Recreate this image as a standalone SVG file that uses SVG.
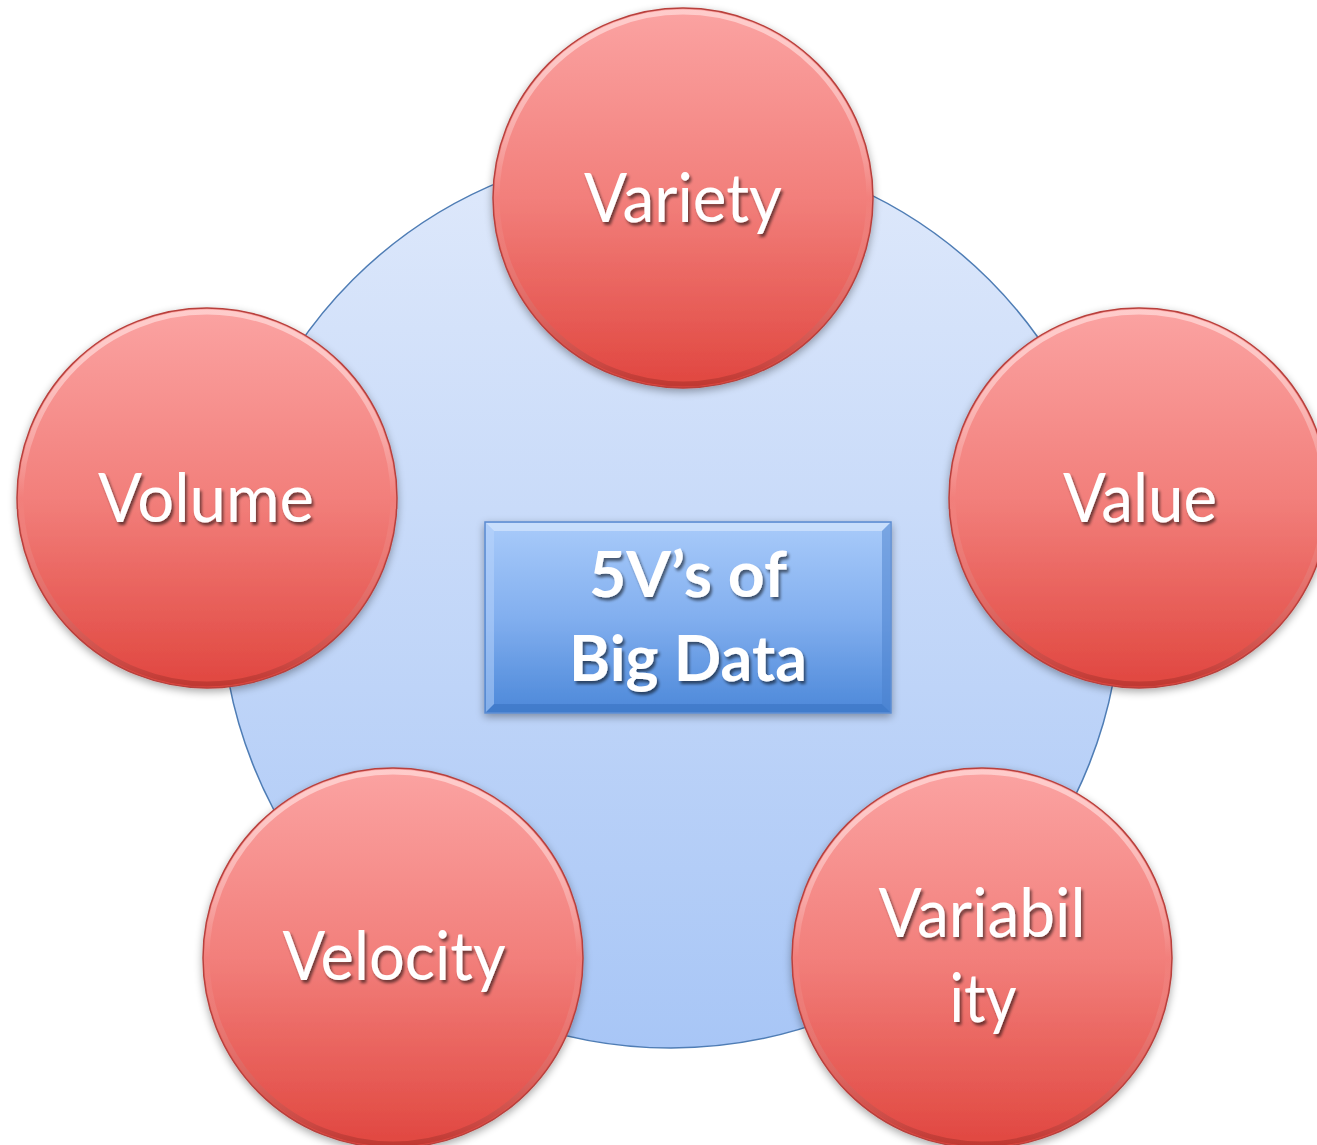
<svg xmlns="http://www.w3.org/2000/svg" width="1317" height="1145" viewBox="0 0 1317 1145">
  <defs>
    <linearGradient id="ringFill" x1="0" y1="0" x2="0" y2="1">
      <stop offset="0" stop-color="#dfe9fb"/>
      <stop offset="1" stop-color="#a8c6f6"/>
    </linearGradient>
    <linearGradient id="redFill" x1="0" y1="0" x2="0" y2="1">
      <stop offset="0" stop-color="#fba3a2"/>
      <stop offset="0.5" stop-color="#f27f7b"/>
      <stop offset="1" stop-color="#e0463f"/>
    </linearGradient>
    <linearGradient id="redRim" x1="0" y1="0" x2="0" y2="1">
      <stop offset="0" stop-color="#ffd0cf" stop-opacity="0.9"/>
      <stop offset="0.5" stop-color="#ffffff" stop-opacity="0"/>
      <stop offset="1" stop-color="#a02a25" stop-opacity="0.5"/>
    </linearGradient>
    <linearGradient id="boxFill" x1="0" y1="0" x2="0" y2="1">
      <stop offset="0" stop-color="#a9cbfa"/>
      <stop offset="0.5" stop-color="#82afef"/>
      <stop offset="1" stop-color="#4c88d9"/>
    </linearGradient>
    <filter id="dropShadow" x="-20%" y="-20%" width="140%" height="140%">
      <feGaussianBlur in="SourceAlpha" stdDeviation="4"/>
      <feOffset dx="0" dy="3" result="b"/>
      <feComponentTransfer><feFuncA type="linear" slope="0.35"/></feComponentTransfer>
      <feMerge><feMergeNode/><feMergeNode in="SourceGraphic"/></feMerge>
    </filter>
    <filter id="textShadow" x="-10%" y="-20%" width="120%" height="150%">
      <feGaussianBlur in="SourceAlpha" stdDeviation="1.8"/>
      <feOffset dx="2" dy="3" result="b"/>
      <feComponentTransfer><feFuncA type="linear" slope="0.55"/></feComponentTransfer>
      <feMerge><feMergeNode/><feMergeNode in="SourceGraphic"/></feMerge>
    </filter>
  </defs>
  <style>
    .disc { fill: url(#redFill); stroke: #b8413d; stroke-width: 1.5; filter: url(#dropShadow); }
    .rim { fill: none; stroke: url(#redRim); stroke-width: 5; }
    .lbl { font-family: Lato, "Open Sans", "Liberation Sans", sans-serif; font-size: 68px; fill: #ffffff; text-anchor: middle; filter: url(#textShadow); }
    .title { font-family: Lato, "Open Sans", "Liberation Sans", sans-serif; font-weight: bold; font-size: 64px; fill: #ffffff; text-anchor: middle; filter: url(#textShadow); }
  </style>

  <rect width="1317" height="1145" fill="#ffffff"/>

  <!-- background ring -->
  <g id="ring">
    <circle cx="671" cy="598" r="450" fill="url(#ringFill)" stroke="#4f7db5" stroke-width="1.5"/>
  </g>

  <g id="connectors"/>

  <!-- centre box -->
  <g id="center">
    <rect x="485" y="522" width="406" height="191" fill="url(#boxFill)" stroke="#5b8bd0" stroke-width="1.5" filter="url(#dropShadow)"/>
    <polygon points="486,523 890,523 882,531 494,531" fill="#cfe2fd" opacity="0.8"/>
    <polygon points="486,712 890,712 882,704 494,704" fill="#3b73c2" opacity="0.6"/>
    <polygon points="486,523 494,531 494,704 486,712" fill="#bcd6fb" opacity="0.5"/>
    <polygon points="890,523 882,531 882,704 890,712" fill="#4a80cc" opacity="0.5"/>
    <text class="title" x="688" y="597" textLength="198" lengthAdjust="spacingAndGlyphs">5V’s of</text>
    <text class="title" x="688" y="681" textLength="238" lengthAdjust="spacingAndGlyphs">Big Data</text>
  </g>

  <g id="variety">
    <circle class="disc" cx="683" cy="198" r="190"/>
    <circle class="rim" cx="683" cy="198" r="186"/>
    <text class="lbl" x="683" y="222" textLength="198" lengthAdjust="spacingAndGlyphs">Variety</text>
  </g>

  <g id="volume">
    <circle class="disc" cx="207" cy="498" r="190"/>
    <circle class="rim" cx="207" cy="498" r="186"/>
    <text class="lbl" x="206" y="522" textLength="216" lengthAdjust="spacingAndGlyphs">Volume</text>
  </g>

  <g id="value">
    <circle class="disc" cx="1139" cy="498" r="190"/>
    <circle class="rim" cx="1139" cy="498" r="186"/>
    <text class="lbl" x="1140" y="522" textLength="154" lengthAdjust="spacingAndGlyphs">Value</text>
  </g>

  <g id="velocity">
    <circle class="disc" cx="393" cy="958" r="190"/>
    <circle class="rim" cx="393" cy="958" r="186"/>
    <text class="lbl" x="394" y="980" textLength="223" lengthAdjust="spacingAndGlyphs">Velocity</text>
  </g>

  <g id="variability">
    <circle class="disc" cx="982" cy="958" r="190"/>
    <circle class="rim" cx="982" cy="958" r="186"/>
    <text class="lbl" x="982" y="937" textLength="207" lengthAdjust="spacingAndGlyphs">Variabil</text>
    <text class="lbl" x="983" y="1022" textLength="67" lengthAdjust="spacingAndGlyphs">ity</text>
  </g>
</svg>
